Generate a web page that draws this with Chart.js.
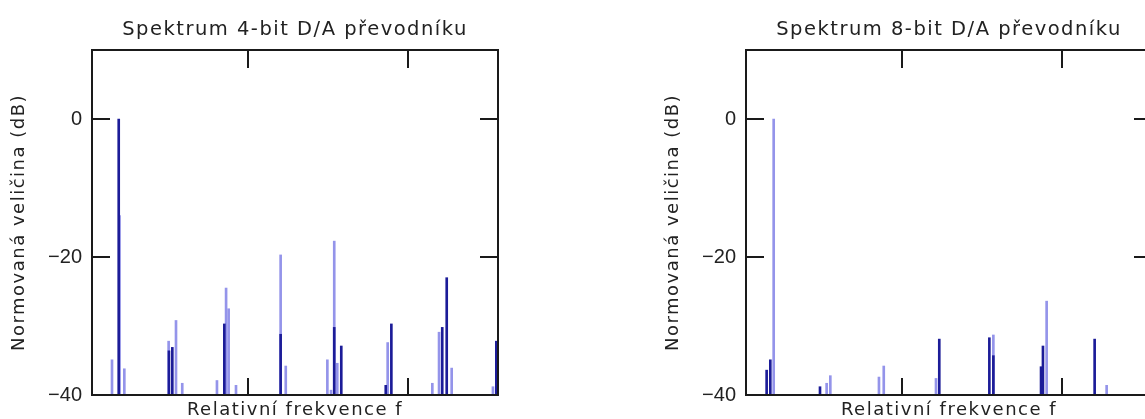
<!DOCTYPE html>
<html><head><meta charset="utf-8">
<script src="https://cdn.jsdelivr.net/npm/chart.js@4.4.1/dist/chart.umd.min.js"></script>
<style>
html,body{margin:0;padding:0;background:#fff;overflow:hidden;width:1145px;height:419px;}
canvas{position:absolute;top:0;}
#c4{left:0}
#c8{left:654px}
</style></head><body>
<canvas id="c4" width="590" height="419"></canvas>
<canvas id="c8" width="590" height="419"></canvas>
<script>
// ---- data (relative frequency, dB) ----
const dark4X  = [0.192, 0.506, 0.527, 0.852, 1.204, 1.539, 1.583, 1.861, 1.896, 2.214, 2.242, 2.552];
const dark4Y  = [0, -33.6, -33.1, -29.7, -31.2, -30.2, -32.9, -38.6, -29.7, -30.2, -23.0, -32.2];
const light4X = [0.150, 0.197, 0.227, 0.504, 0.550, 0.589, 0.806, 0.863, 0.879, 0.925, 1.204, 1.236, 1.496, 1.519, 1.539, 1.558, 1.873, 2.152, 2.194, 2.273, 2.531];
const light4Y = [-34.9, -14, -36.2, -32.2, -29.2, -38.3, -37.9, -24.5, -27.5, -38.6, -19.7, -35.8, -34.9, -39.3, -17.7, -35.4, -32.4, -38.3, -30.9, -36.1, -38.8];

const dark8X  = [0.154, 0.177, 0.4875, 1.233, 1.546, 1.571, 1.869, 1.881, 2.204];
const dark8Y  = [-36.4, -34.9, -38.8, -31.9, -31.7, -34.3, -35.9, -32.9, -31.9];
const light8X = [0.198, 0.529, 0.552, 0.856, 0.886, 1.2125, 1.571, 1.904, 2.279];
const light8Y = [0, -38.3, -37.2, -37.4, -35.8, -37.6, -31.3, -26.4, -38.6];

const xTickValues = [1, 2];
const yTickValues = [-40, -20, 0];
const yTickLabels = ['\u221240', '\u221220', '0'];
const rightTickValues = [-20, 0];

const title4 = 'Spektrum 4-bit D/A převodníku';
const title8 = 'Spektrum 8-bit D/A převodníku';
const xTitle = 'Relativní frekvence f';
const yTitle = 'Normovaná veličina (dB)';

const X_MIN = 0.025, X_MAX = 2.5625, Y_MIN = -40, Y_MAX = 10;
const DARK = '#1c1c98', LIGHT = '#9494ea', INK = '#1a1a1a';

const frameTicks = {
  id: 'frameTicks',
  beforeDraw(chart) { chart.ctx.letterSpacing = '1.5px'; },
  afterDatasetsDraw(chart) { chart.ctx.letterSpacing = '0px'; },
  afterDraw(chart) {
    const {ctx, chartArea: a, scales: {x, y}} = chart;
    ctx.save();
    ctx.letterSpacing = '0px';
    ctx.strokeStyle = INK; ctx.lineWidth = 2;
    ctx.strokeRect(a.left, a.top, a.right - a.left, a.bottom - a.top);
    const seg = (x1, y1, x2, y2) => { ctx.beginPath(); ctx.moveTo(x1, y1); ctx.lineTo(x2, y2); ctx.stroke(); };
    xTickValues.forEach(v => {
      const px = Math.round(x.getPixelForValue(v));
      seg(px, a.bottom, px, a.bottom - 17);
      seg(px, a.top, px, a.top + 18);
    });
    yTickValues.forEach(v => {
      const py = Math.round(y.getPixelForValue(v));
      seg(a.left, py, a.left + 18, py);
      if (rightTickValues.includes(v)) seg(a.right - 18, py, a.right, py);
    });
    ctx.restore();
  }
};

function spikes(xs, ys) { return xs.map((xv, i) => ({x: xv, y: [Y_MIN, ys[i]]})); }

function makeChart(id, titleText, dX, dY, lX, lY) {
  return new Chart(document.getElementById(id), {
    type: 'bar',
    data: {
      datasets: [
        {label: 'dark', data: spikes(dX, dY), backgroundColor: DARK, barThickness: 2, grouped: false, borderWidth: 0},
        {label: 'light', data: spikes(lX, lY), backgroundColor: LIGHT, barThickness: 2, grouped: false, borderWidth: 0}
      ]
    },
    options: {
      responsive: false,
      animation: false,
      events: [],
      layout: {padding: 0},
      plugins: {
        legend: {display: false},
        tooltip: {enabled: false},
        title: {display: true, text: titleText, color: '#222',
                font: {family: 'DejaVu Sans', size: 19.5, weight: 'normal'},
                padding: {top: 18, bottom: 8.6}}
      },
      scales: {
        x: {type: 'linear', min: X_MIN, max: X_MAX, offset: false, position: 'bottom',
            afterBuildTicks: s => { s.ticks = xTickValues.map(v => ({value: v})); },
            afterFit: s => { s.height = 24; },
            grid: {display: false, drawTicks: false}, border: {display: false},
            ticks: {display: false},
            title: {display: true, text: xTitle, color: '#222',
                    font: {family: 'DejaVu Sans', size: 18, weight: 'normal'}, padding: {top: 0, bottom: -2}}},
        y: {type: 'linear', min: Y_MIN, max: Y_MAX, position: 'left',
            afterBuildTicks: s => { s.ticks = yTickValues.map(v => ({value: v})); },
            afterFit: s => { s.width = 92; },
            grid: {display: false, drawTicks: false}, border: {display: false},
            ticks: {z: 1, padding: 10, color: '#222',
                    font: {family: "'Liberation Sans Narrow', 'Liberation Sans', sans-serif", size: 20},
                    callback: (v, i) => yTickLabels[i]},
            title: {display: true, text: yTitle, color: '#222',
                    font: {family: 'DejaVu Sans', size: 18, weight: 'normal'}, padding: {top: 9, bottom: 0}}},
        y2: {type: 'linear', position: 'right', display: true,
             afterFit: s => { s.width = 92; },
             grid: {display: false, drawTicks: false}, border: {display: false},
             ticks: {display: false}}
      }
    },
    plugins: [frameTicks]
  });
}

makeChart('c4', title4, dark4X, dark4Y, light4X, light4Y);
makeChart('c8', title8, dark8X, dark8Y, light8X, light8Y);
</script>
</body></html>
